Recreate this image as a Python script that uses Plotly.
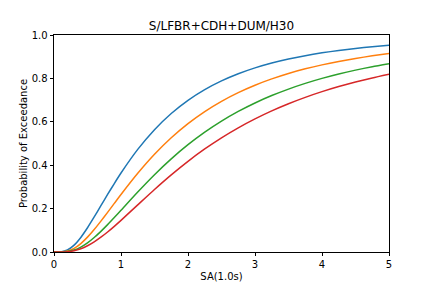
import plotly.graph_objects as go

sa = [0, 0.1, 0.2, 0.3, 0.4, 0.5, 0.6, 0.7, 0.8, 0.9, 1.0, 1.25, 1.5, 1.75, 2.0,
      2.25, 2.5, 2.75, 3.0, 3.25, 3.5, 3.75, 4.0, 4.25, 4.5, 4.75, 5.0]

p_blue = [0, 0.0006, 0.0090, 0.0316, 0.0672, 0.1118, 0.1615, 0.2132, 0.2651, 0.3155,
          0.3639, 0.4728, 0.5638, 0.6382, 0.6989, 0.7482, 0.7884, 0.8214, 0.8484,
          0.8708, 0.8893, 0.9048, 0.9178, 0.9287, 0.9380, 0.9459, 0.9526]
p_orange = [0, 0.0002, 0.0043, 0.0170, 0.0389, 0.0685, 0.1036, 0.1422, 0.1828, 0.2240,
            0.2650, 0.3626, 0.4502, 0.5263, 0.5915, 0.6471, 0.6944, 0.7345, 0.7686,
            0.7977, 0.8227, 0.8440, 0.8624, 0.8782, 0.8920, 0.9039, 0.9143]
p_green = [0, 0.0001, 0.0022, 0.0093, 0.0228, 0.0423, 0.0669, 0.0952, 0.1262, 0.1589,
           0.1924, 0.2764, 0.3562, 0.4292, 0.4945, 0.5524, 0.6032, 0.6478, 0.6868,
           0.7209, 0.7508, 0.7770, 0.8000, 0.8203, 0.8382, 0.8540, 0.8680]
p_red = [0, 0.0001, 0.0013, 0.0058, 0.0149, 0.0287, 0.0467, 0.0681, 0.0923, 0.1184,
         0.1459, 0.2173, 0.2883, 0.3556, 0.4180, 0.4748, 0.5262, 0.5723, 0.6135,
         0.6504, 0.6833, 0.7127, 0.7390, 0.7624, 0.7835, 0.8023, 0.8193]

x_ticks = [0, 1, 2, 3, 4, 5]
y_ticks = [0.0, 0.2, 0.4, 0.6, 0.8, 1.0]
y_tick_labels = ["0.0", "0.2", "0.4", "0.6", "0.8", "1.0"]

series = [p_blue, p_orange, p_green, p_red]
colors = ["#1f77b4", "#ff7f0e", "#2ca02c", "#d62728"]

fig = go.Figure()
for ys, c in zip(series, colors):
    fig.add_trace(go.Scatter(x=sa, y=ys, mode="lines",
                             line=dict(color=c, width=1.5, shape="spline", smoothing=0.6),
                             showlegend=False, hoverinfo="skip"))

font = dict(family="DejaVu Sans", size=10, color="black")
fig.update_layout(
    width=432, height=288,
    margin=dict(l=54, r=43, t=35, b=36, autoexpand=False),
    paper_bgcolor="white", plot_bgcolor="white",
    font=font,
    title=dict(text="S/LFBR+CDH+DUM/H30", x=0.5, xref="paper", xanchor="center",
               y=1 - 26 / 288, yref="container", yanchor="middle",
               font=dict(family="DejaVu Sans", size=12, color="black")),
)
fig.update_xaxes(range=[0, 5], tickvals=x_ticks, ticktext=[str(t) for t in x_ticks],
                 showgrid=False, zeroline=False, showline=True, linecolor="black",
                 linewidth=0.8, mirror=True, ticks="outside", ticklen=3.5, tickwidth=0.8,
                 tickcolor="black", tickfont=font, automargin=False,
                 title=dict(text="SA(1.0s)", font=font, standoff=3))
fig.update_yaxes(range=[0, 1], tickvals=y_ticks, ticktext=y_tick_labels,
                 showgrid=False, zeroline=False, showline=True, linecolor="black",
                 linewidth=0.8, mirror=True, ticks="outside", ticklen=3.5, tickwidth=0.8,
                 tickcolor="black", tickfont=font, automargin=False,
                 title=dict(text="Probability of Exceedance", font=font, standoff=2))

fig.write_html("out.html")
